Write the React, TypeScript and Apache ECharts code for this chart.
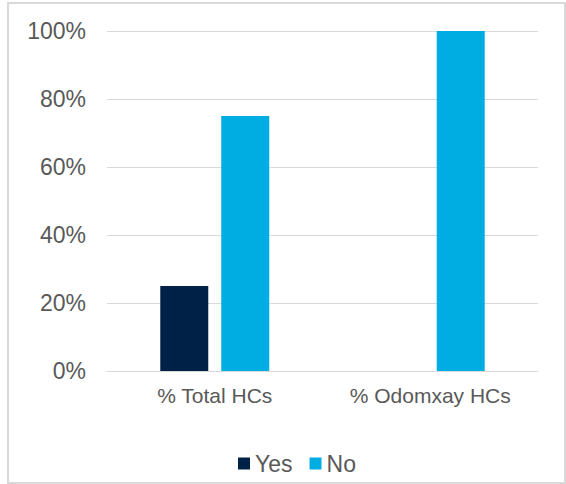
import React, { useEffect, useRef } from "react";
import * as echarts from "echarts";

const categories = ["% Total HCs", "% Odomxay HCs"];
const yesValues = [25, 0];
const noValues = [75, 100];
const seriesNames = ["Yes", "No"];

export default function App() {
  const ref = useRef<HTMLDivElement>(null);

  useEffect(() => {
    const chart = echarts.init(ref.current!, null, { renderer: "svg" });
    const font = "Arial, 'Liberation Sans', sans-serif";
    chart.setOption({
      animation: false,
      backgroundColor: "#ffffff",
      textStyle: { fontFamily: font },
      graphic: [
        {
          type: "rect",
          shape: { x: 8, y: 3, width: 557, height: 480 },
          style: { fill: "none", stroke: "#d9d9d9", lineWidth: 2 },
          silent: true,
        },
      ],
      grid: { left: 107, right: 28, top: 31, bottom: 113, containLabel: false },
      legend: {
        data: seriesNames,
        left: 233,
        top: 447,
        itemWidth: 12,
        itemHeight: 12,
        itemGap: 17,
        icon: "rect",
        textStyle: { color: "#595959", fontSize: 23, fontFamily: font },
      },
      xAxis: {
        type: "category",
        data: categories,
        axisLine: { lineStyle: { color: "#d9d9d9", width: 1 } },
        axisTick: { show: false },
        axisLabel: {
          color: "#595959",
          fontSize: 21,
          margin: 14,
          interval: 0,
          fontFamily: font,
        },
      },
      yAxis: {
        type: "value",
        min: 0,
        max: 100,
        interval: 20,
        axisLine: { show: false },
        axisTick: { show: false },
        splitLine: { lineStyle: { color: "#d9d9d9", width: 1 } },
        axisLabel: {
          color: "#595959",
          fontSize: 23,
          margin: 21,
          fontFamily: font,
          formatter: "{value}%",
        },
      },
      series: [
        {
          name: seriesNames[0],
          type: "bar",
          data: yesValues,
          barWidth: 48,
          barGap: "27%",
          itemStyle: { color: "#002147" },
        },
        {
          name: seriesNames[1],
          type: "bar",
          data: noValues,
          barWidth: 48,
          barGap: "27%",
          itemStyle: { color: "#00ade3" },
        },
      ],
    });
    return () => chart.dispose();
  }, []);

  return (
    <div
      ref={ref}
      style={{ position: "fixed", left: 0, top: 0, width: 566, height: 484 }}
    />
  );
}
